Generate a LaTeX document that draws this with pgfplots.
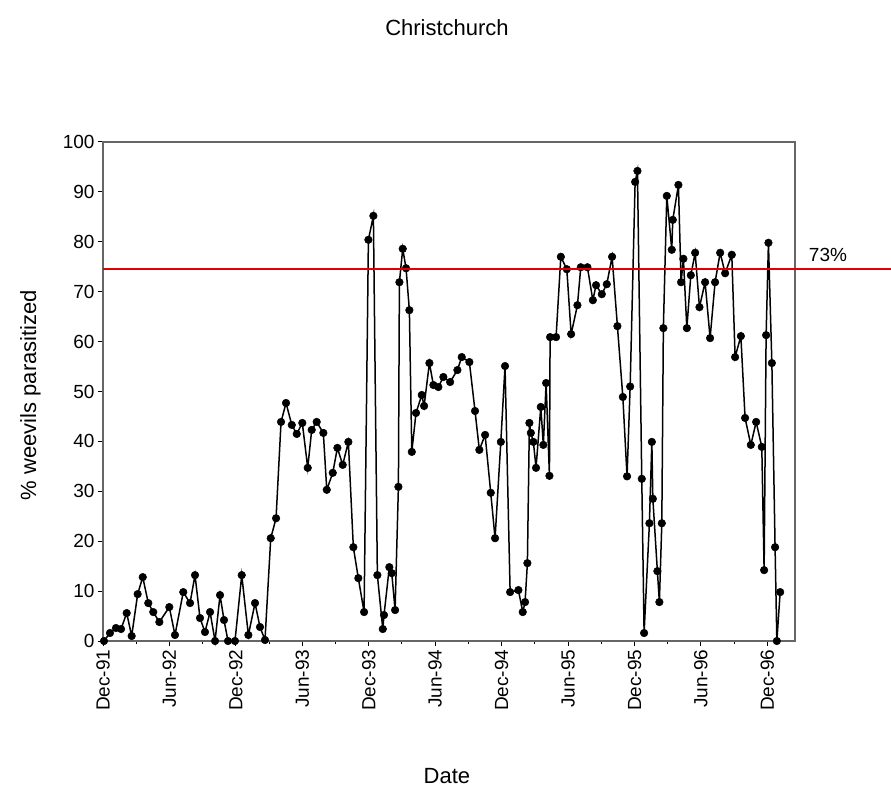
\documentclass[border=0pt]{standalone}
\usepackage{pgfplots}
\pgfplotsset{compat=1.18}
\usepackage{fontspec}
\setmainfont{Liberation Sans}
\definecolor{refred}{RGB}{225,0,0}
\begin{document}
\begin{tikzpicture}
\useasboundingbox (0pt,0pt) rectangle (891pt,793pt);
\begin{axis}[
 at={(103pt,152pt)}, anchor=south west,
 scale only axis, width=692pt, height=499pt,
 xmin=0, xmax=62.5, ymin=0, ymax=100,
 clip=false,
 axis line style={draw=gray!80!black, line width=1.4pt},
 xtick={0,6,...,60},
 xticklabels={Dec-91,Jun-92,Dec-92,Jun-93,Dec-93,Jun-94,Dec-94,Jun-95,Dec-95,Jun-96,Dec-96},
 minor xtick={3,9,...,57},
 ytick={0,10,...,100},
 tick align=outside, tick pos=left,
 major tick length=5pt, minor tick length=3pt,
 tick style={draw=black, line width=1pt},
 x tick label style={rotate=90, anchor=east, font=\fontsize{19}{19}\selectfont},
 y tick label style={font=\fontsize{19}{19}\selectfont},
 /pgf/number format/assume math mode=true,
 xlabel={Date}, ylabel={\% weevils parasitized},
 xlabel style={at={(axis description cs:0.497,-0.27)}, anchor=center, font=\fontsize{22}{22}\selectfont},
 ylabel style={at={(axis description cs:-0.105,0.493)}, anchor=center, rotate=0, font=\fontsize{22}{22}\selectfont},
]
\addplot[black, line width=1.5pt, mark=*, mark size=3.8pt, mark options={fill=black, draw=black, line width=0.5pt}] coordinates {
(0.09,0) (0.63,1.6) (1.17,2.6) (1.63,2.4) (2.14,5.6) (2.59,1.0) (3.13,9.4) (3.59,12.8)
(4.09,7.6) (4.54,5.8) (5.09,3.8) (5.99,6.8) (6.50,1.2) (7.25,9.8) (7.86,7.6) (8.31,13.2)
(8.76,4.6) (9.21,1.8) (9.67,5.8) (10.12,0) (10.57,9.2) (10.93,4.2) (11.29,0) (11.92,0)
(12.53,13.2) (13.13,1.2) (13.73,7.6) (14.18,2.8) (14.63,0.2)
(15.15,20.6) (15.63,24.6) (16.08,43.9) (16.53,47.7) (17.05,43.3) (17.50,41.5) (18.00,43.7)
(18.49,34.7) (18.85,42.3) (19.30,43.9) (19.90,41.7) (20.21,30.3) (20.75,33.7) (21.17,38.7)
(21.65,35.3) (22.16,39.9) (22.61,18.8) (23.06,12.6) (23.58,5.8) (23.97,80.4) (24.42,85.2)
(24.78,13.2) (25.27,2.4) (25.38,5.2) (25.86,14.8) (26.08,13.6) (26.38,6.2) (26.68,30.9)
(26.77,71.9) (27.07,78.6) (27.37,74.7) (27.67,66.3) (27.89,37.9) (28.27,45.7) (28.79,49.3)
(29.00,47.1) (29.48,55.7) (29.84,51.3) (30.29,50.9) (30.74,52.9) (31.35,51.9) (32.01,54.3)
(32.40,56.9) (33.09,55.9) (33.60,46.1) (33.99,38.3) (34.51,41.3) (35.02,29.7) (35.41,20.6)
(35.93,39.9) (36.31,55.1) (36.77,9.8) (37.52,10.2) (37.91,5.8) (38.12,7.8) (38.33,15.6)
(38.51,43.7) (38.64,41.7) (38.87,39.9) (39.11,34.7) (39.54,46.9) (39.77,39.3) (40.02,51.7)
(40.32,33.1) (40.38,60.9) (40.92,60.9) (41.35,77.0) (41.89,74.5) (42.28,61.5) (42.85,67.3)
(43.15,74.9) (43.75,74.9) (44.24,68.3) (44.53,71.3) (45.05,69.5) (45.50,71.5) (45.98,77.0)
(46.46,63.1) (46.95,48.9) (47.33,33.0) (47.61,51.0) (48.06,92.0) (48.27,94.2) (48.66,32.5)
(48.87,1.6) (49.35,23.6) (49.57,39.9) (49.66,28.5) (50.07,14.0) (50.25,7.8) (50.47,23.6)
(50.61,62.7) (50.92,89.2) (51.37,78.4) (51.46,84.4) (51.97,91.4) (52.21,71.9) (52.42,76.6)
(52.73,62.7) (53.09,73.3) (53.48,77.8) (53.87,66.9) (54.38,71.9) (54.83,60.7) (55.28,71.9)
(55.74,77.8) (56.19,73.7) (56.79,77.4) (57.09,56.9) (57.61,61.1) (57.99,44.7) (58.51,39.3)
(58.99,43.9) (59.50,38.9) (59.71,14.2) (59.89,61.3) (60.10,79.8) (60.41,55.7) (60.70,18.8)
(60.86,0) (61.16,9.8)
};
\end{axis}
\draw[draw=refred, line width=1.2pt] (103pt,524pt) -- (891pt,524pt);
\node[font=\fontsize{22}{22}\selectfont] at (447pt,765pt) {Christchurch};
\node[font=\fontsize{19}{19}\selectfont] at (828pt,538pt) {73\%};
\end{tikzpicture}
\end{document}
